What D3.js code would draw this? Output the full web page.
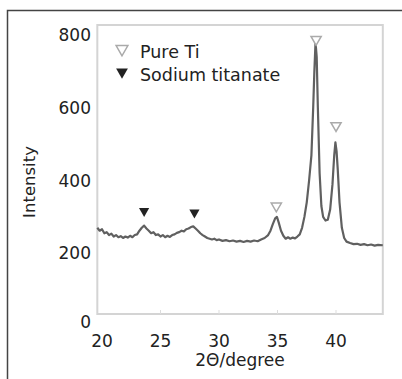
<!DOCTYPE html>
<html>
<head>
<meta charset="utf-8">
<script src="https://cdn.jsdelivr.net/npm/d3@7"></script>
<style>
  body { margin: 0; background: #fff; }
  text { font-family: "DejaVu Sans", sans-serif; fill: #222; }
</style>
</head>
<body>
<div class="chart"></div>
<script>
// XRD pattern
var twoTheta = [19.6, 19.8, 20.0, 20.2, 20.4, 20.6, 20.8, 21.0, 21.2, 21.4, 21.6, 21.8, 22.0, 22.2, 22.4, 22.6, 22.8,
  23.0, 23.2, 23.4, 23.6, 23.8, 24.0, 24.2, 24.4, 24.6, 24.8, 25.0, 25.2, 25.4, 25.6, 25.8, 26.0, 26.2, 26.4, 26.6, 26.8,
  27.0, 27.2, 27.4, 27.6, 27.8, 28.0, 28.2, 28.4, 28.6, 28.8, 29.0, 29.2, 29.4, 29.6, 29.8, 30.0, 30.3, 30.6, 30.9,
  31.2, 31.5, 31.8, 32.1, 32.4, 32.7, 33.0, 33.3, 33.6, 33.9, 34.2, 34.4, 34.6, 34.8, 34.95, 35.1, 35.3, 35.5, 35.7,
  35.9, 36.1, 36.3, 36.5, 36.7, 36.9, 37.1, 37.3, 37.5, 37.7, 37.9, 38.05, 38.15, 38.25, 38.35, 38.45, 38.6, 38.75,
  38.9, 39.1, 39.3, 39.5, 39.7, 39.85, 39.95, 40.05, 40.15, 40.3, 40.5, 40.7, 40.9, 41.2, 41.5, 41.8, 42.1, 42.4,
  42.7, 43.0, 43.3, 43.6, 44.0];
var intensity = [270, 262, 266, 255, 258, 250, 254, 246, 250, 244, 247, 242, 246, 243, 248, 244, 250,
  252, 262, 270, 276, 268, 262, 255, 258, 250, 252, 246, 250, 244, 248, 245, 250, 252, 256, 258, 262,
  260, 266, 268, 272, 274, 268, 262, 255, 250, 246, 242, 240, 238, 240, 236, 238, 234, 236, 233,
  235, 232, 234, 231, 234, 232, 235, 233, 238, 242, 250, 262, 280, 296, 300, 285, 262, 248, 240,
  244, 240, 243, 241, 246, 252, 270, 300, 340, 400, 470, 600, 700, 780, 740, 600, 420, 330,
  300, 290, 292, 320, 390, 470, 505, 480, 430, 340, 270, 242, 232, 228, 225, 226, 223, 225,
  222, 224, 221, 223, 222];

// peak markers
var tiPeaks = [34.9, 38.3, 40.0];
var tiHeights = [330, 788, 551];
var naPeaks = [23.6, 27.9];
var naHeights = [316, 312];

var xTicks = [20, 25, 30, 35, 40];
var yTicks = [0, 200, 400, 600, 800];
var legendLabels = ['Pure Ti', 'Sodium titanate'];

var width = 402, height = 379;

var svg = d3.select('.chart')
  .append('svg')
  .attr('width', width)
  .attr('height', height);

var x = d3.scaleLinear().domain([20, 40]).range([102, 336]);
var y = d3.scaleLinear().domain([0, 800]).range([326, 35]);

// outer frame (top and left only)
svg.append('path')
  .attr('d', 'M7.5,' + height + ' V10.5 H' + width)
  .attr('fill', 'none')
  .attr('stroke', '#444')
  .attr('stroke-width', 1.5);

// plot box
svg.append('rect')
  .attr('x', x(19.6)).attr('y', 25)
  .attr('width', x(44) - x(19.6)).attr('height', 289)
  .attr('fill', 'none')
  .attr('stroke', '#d4d4d4')
  .attr('stroke-width', 2);

// faint ticks on the box
svg.selectAll('.xt')
  .data(xTicks.slice(1))
  .enter().append('line')
  .attr('x1', function(d) { return x(d); })
  .attr('x2', function(d) { return x(d); })
  .attr('y1', 314).attr('y2', 310)
  .attr('stroke', '#ddd');

// tick labels
svg.selectAll('.xl')
  .data(xTicks)
  .enter().append('text')
  .attr('x', function(d) { return x(d); })
  .attr('y', 347)
  .attr('text-anchor', 'middle')
  .style('font-size', '17px')
  .text(function(d) { return d; });

svg.selectAll('.yl')
  .data(yTicks)
  .enter().append('text')
  .attr('x', 91)
  .attr('y', function(d) { return d === 0 ? y(d) + 2 : y(d) + 6; })
  .attr('text-anchor', 'end')
  .style('font-size', '17px')
  .text(function(d) { return d; });

// axis titles
svg.append('text')
  .attr('x', 240).attr('y', 366)
  .attr('text-anchor', 'middle')
  .style('font-size', '17px')
  .text('2\u0398/degree');

svg.append('text')
  .attr('transform', 'translate(35,182) rotate(-90)')
  .attr('text-anchor', 'middle')
  .style('font-size', '16.5px')
  .text('Intensity');

// the pattern
var line = d3.line()
  .x(function(d, i) { return x(twoTheta[i]); })
  .y(function(d) { return y(d); });

svg.append('path')
  .datum(intensity)
  .attr('d', line)
  .attr('fill', 'none')
  .attr('stroke', '#606060')
  .attr('stroke-width', 2.2)
  .attr('stroke-linejoin', 'round');

// triangles
var tri = d3.symbol().type(d3.symbolTriangle).size(45);

svg.selectAll('.ti')
  .data(tiPeaks)
  .enter().append('path')
  .attr('d', tri)
  .attr('transform', function(d, i) { return 'translate(' + x(d) + ',' + y(tiHeights[i]) + ') rotate(180)'; })
  .attr('fill', '#fff')
  .attr('stroke', '#aaa')
  .attr('stroke-width', 1.5);

svg.selectAll('.na')
  .data(naPeaks)
  .enter().append('path')
  .attr('d', tri)
  .attr('transform', function(d, i) { return 'translate(' + x(d) + ',' + y(naHeights[i]) + ') rotate(180)'; })
  .attr('fill', '#222');

// legend
var legend = svg.append('g');
legend.selectAll('path')
  .data(legendLabels)
  .enter().append('path')
  .attr('d', d3.symbol().type(d3.symbolTriangle).size(60))
  .attr('transform', function(d, i) { return 'translate(122,' + (49 + i * 23) + ') rotate(180)'; })
  .attr('fill', function(d, i) { return i === 0 ? '#fff' : '#222'; })
  .attr('stroke', function(d, i) { return i === 0 ? '#aaa' : 'none'; })
  .attr('stroke-width', 1.5);

legend.selectAll('text')
  .data(legendLabels)
  .enter().append('text')
  .attr('x', 140)
  .attr('y', function(d, i) { return 58 + i * 23; })
  .style('font-size', '17.5px')
  .text(function(d) { return d; });
</script>
</body>
</html>
